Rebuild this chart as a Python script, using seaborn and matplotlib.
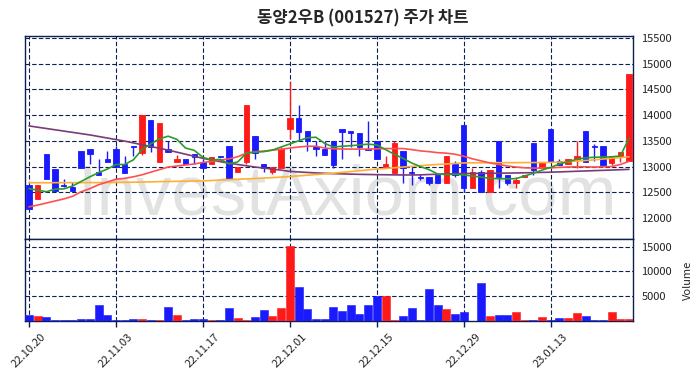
import matplotlib
matplotlib.use('agg')
import matplotlib.pyplot as plt
import seaborn as sns
import pandas as pd

# daily candles, 22.10.20 .. 23.01.30 (70 trading days)
opens = [12637, 12378, 13241, 12949, 12650, 12605, 13300, 13340, 12890, 13145,
         13340, 13040, 13390, 13254, 13900, 13092, 13340, 13092, 13145, 13235,
         13090, 13040, 13200, 13400, 12896, 13092, 13590, 13040, 12890, 12975,
         13740, 13950, 13690, 13400, 13340, 13495, 13740, 13690, 13645, 13340,
         13495, 12975, 12877, 13300, 12890, 12790, 12800, 12845, 12683, 13040,
         13806, 12585, 12890, 12495, 13494, 12845, 12683, 12787, 13460, 12975,
         13740, 13105, 13040, 13137, 13690, 13390, 13396, 13072, 13176, 13110]
highs = [12637, 12637, 13241, 12949, 12750, 12690, 13300, 13340, 13140, 13300,
         13400, 13200, 13400, 14000, 13900, 13850, 13500, 13220, 13145, 13235,
         13140, 13190, 13200, 13400, 13000, 14195, 13590, 13040, 13000, 13380,
         14640, 14200, 13690, 13495, 13495, 13495, 13740, 13690, 13645, 13890,
         13495, 13200, 13495, 13300, 13000, 12860, 12800, 12845, 13200, 13105,
         13806, 12975, 12940, 12940, 13494, 12845, 12787, 12845, 13460, 13060,
         13740, 13140, 13137, 13495, 13690, 13435, 13396, 13176, 13286, 14800]
lows = [12183, 12378, 12748, 12527, 12600, 12527, 12975, 13040, 12840, 13090,
        13000, 12880, 13200, 13220, 13290, 13092, 13290, 13092, 13040, 13040,
        12975, 13040, 13190, 12770, 12896, 13040, 13140, 12890, 12850, 12975,
        13530, 13500, 13300, 13200, 13222, 12975, 13140, 13385, 13200, 13320,
        13137, 12975, 12877, 12683, 12640, 12735, 12640, 12683, 12683, 12800,
        12510, 12585, 12495, 12495, 12585, 12637, 12585, 12787, 12845, 12975,
        13092, 13030, 13040, 12980, 13092, 13105, 13030, 13027, 13092, 13110]
closes = [12183, 12637, 12748, 12527, 12620, 12527, 12975, 13235, 12840, 13090,
          13000, 12880, 13380, 14000, 13385, 13850, 13290, 13144, 13040, 13190,
          12975, 13190, 13190, 12770, 13000, 14195, 13270, 12975, 13000, 13340,
          13950, 13676, 13495, 13340, 13222, 13030, 13676, 13645, 13385, 13330,
          13137, 13040, 13460, 12975, 12880, 12780, 12685, 12683, 13200, 12845,
          12585, 12890, 12495, 12940, 12787, 12683, 12735, 12845, 12930, 13060,
          13092, 13030, 13137, 13200, 13092, 13380, 13030, 13176, 13286, 14800]
volumes = [1224, 1020, 816, 200, 200, 200, 400, 400, 3264, 1224,
           136, 136, 408, 408, 200, 200, 2856, 1224, 200, 400,
           400, 200, 200, 2650, 612, 200, 816, 2244, 1020, 2652,
           15100, 6936, 2448, 408, 408, 2856, 2040, 3264, 1428, 3264,
           5032, 5032, 200, 1020, 2652, 200, 6528, 3264, 2448, 1428,
           1836, 50, 7752, 1020, 1224, 1224, 1836, 200, 200, 816,
           136, 612, 612, 1632, 1020, 200, 200, 1836, 408, 408]

# moving averages
ma5 = [12570, 12540, 12510, 12560, 12565, 12620, 12710, 12800, 12880, 12950,
       13040, 13040, 13130, 13330, 13440, 13540, 13590, 13530, 13360, 13315,
       13180, 13125, 13140, 13050, 13090, 13260, 13280, 13290, 13320, 13380,
       13440, 13500, 13560, 13570, 13450, 13380, 13395, 13405, 13420, 13435,
       13420, 13330, 13240, 13160, 13070, 13000, 12940, 12855, 12845, 12850,
       12835, 12815, 12795, 12770, 12765, 12760, 12765, 12815, 12870, 12930,
       12985, 13050, 13095, 13140, 13170, 13180, 13185, 13190, 13205, 13550]
ma20 = [12215, 12250, 12290, 12330, 12370, 12420, 12510, 12570, 12645, 12700,
        12750, 12770, 12800, 12840, 12890, 12940, 12990, 13010, 13030, 13050,
        13080, 13100, 13125, 13150, 13190, 13260, 13290, 13300, 13320, 13335,
        13360, 13380, 13395, 13395, 13360, 13345, 13340, 13340, 13340, 13340,
        13345, 13350, 13350, 13350, 13330, 13305, 13290, 13270, 13260, 13240,
        13200, 13150, 13110, 13070, 13040, 13010, 12990, 12975, 12970, 12970,
        12975, 12985, 12990, 12995, 12995, 12990, 12995, 13000, 13040, 13100]
ma60 = [12685, 12685, 12685, 12686, 12686, 12687, 12687, 12688, 12688, 12689,
        12690, 12692, 12695, 12698, 12702, 12706, 12709, 12712, 12715, 12718,
        12720, 12728, 12737, 12745, 12752, 12760, 12768, 12776, 12784, 12795,
        12805, 12818, 12831, 12844, 12857, 12870, 12886, 12902, 12918, 12935,
        12950, 12962, 12976, 12990, 13003, 13016, 13030, 13040, 13050, 13060,
        13070, 13072, 13073, 13074, 13075, 13075, 13076, 13077, 13078, 13079,
        13080, 13086, 13093, 13105, 13118, 13130, 13145, 13160, 13175, 13190]
ma120 = [13790, 13765, 13740, 13715, 13690, 13665, 13640, 13615, 13585, 13555,
         13525, 13495, 13460, 13425, 13390, 13355, 13320, 13280, 13240, 13200,
         13160, 13125, 13095, 13065, 13040, 13015, 12990, 12970, 12950, 12930,
         12905, 12895, 12885, 12876, 12868, 12862, 12857, 12852, 12848, 12845,
         12842, 12840, 12838, 12836, 12836, 12838, 12845, 12850, 12855, 12860,
         12865, 12866, 12867, 12868, 12870, 12872, 12875, 12878, 12882, 12886,
         12890, 12896, 12902, 12908, 12914, 12920, 12926, 12932, 12938, 12945]

tick_labels = ['22.10.20', '22.11.03', '22.11.17', '22.12.01',
               '22.12.15', '22.12.29', '23.01.13']
price_ticks = [12000, 12500, 13000, 13500, 14000, 14500, 15000, 15500]
volume_ticks = [5000, 10000, 15000]

UP = '#ff1a1a'
DOWN = '#1a1aff'
NAVY = '#0d1f4f'

if __name__ == '__main__':
    sns.set_style('white')
    plt.rcParams['font.family'] = ['Noto Sans CJK KR', 'DejaVu Sans']

    df = pd.DataFrame({'open': opens, 'high': highs, 'low': lows,
                       'close': closes, 'volume': volumes,
                       'ma5': ma5, 'ma20': ma20, 'ma60': ma60, 'ma120': ma120})
    df['idx'] = range(len(df))
    colors = [UP if c > o else DOWN for o, c in zip(df['open'], df['close'])]

    fig = plt.figure(figsize=(6.98, 3.78), dpi=100)
    ax1 = fig.add_axes([25 / 698, 1 - 239 / 378, 608 / 698, 203 / 378])
    ax2 = fig.add_axes([25 / 698, 1 - 321 / 378, 608 / 698, 82 / 378], sharex=ax1)

    # watermark
    ax1.text(0.53, 0.12, 'InvestAxiom.com', transform=ax1.transAxes,
             fontsize=51, color='#e2e2e2', ha='center', va='baseline',
             family='Liberation Sans', zorder=0)

    # candles
    body_lo = [min(o, c) for o, c in zip(df['open'], df['close'])]
    body_h = [max(abs(c - o), 12) for o, c in zip(df['open'], df['close'])]
    ax1.vlines(df['idx'], df['low'], df['high'], colors=colors, lw=1, zorder=2)
    ax1.bar(df['idx'], body_h, bottom=body_lo, width=0.62, color=colors,
            edgecolor=colors, linewidth=0.6, zorder=3)

    # moving averages
    for col, c in [('ma120', '#7b3a78'), ('ma60', '#ffb030'),
                   ('ma20', '#ff5050'), ('ma5', '#2e9a2e')]:
        sns.lineplot(data=df, x='idx', y=col, ax=ax1, color=c, lw=1.2,
                     zorder=4, legend=False)

    # volume
    ax2.bar(df['idx'], df['volume'], width=0.92, color=colors,
            edgecolor=colors, linewidth=0.4, zorder=3)

    for ax in (ax1, ax2):
        ax.grid(True, color=NAVY, linestyle=(0, (4, 2)), lw=0.8)
        ax.set_axisbelow(True)
        for s in ax.spines.values():
            s.set_color(NAVY)
            s.set_linewidth(1.0)
        ax.yaxis.tick_right()
        ax.set_ylabel('')
        ax.set_xlabel('')
        ax.tick_params(axis='y', labelsize=8, length=0, pad=6, colors='#222222')

    ax1.set_xlim(-0.46, 69.46)
    ax1.set_ylim(11590, 15540)
    ax1.set_yticks(price_ticks)
    ax1.tick_params(axis='x', labelbottom=False, length=0)

    ax2.set_ylim(0, 16550)
    ax2.set_yticks(volume_ticks)
    ax2.set_xticks(range(0, 61, 10))
    ax2.set_xticklabels(tick_labels, rotation=45, fontsize=8, color='#222222')
    ax2.tick_params(axis='x', length=4, width=1, color=NAVY, direction='out',
                    bottom=True)
    ax2.yaxis.set_label_position('right')
    ax2.set_ylabel('Volume', fontsize=8, labelpad=8)

    fig.suptitle('동양2우B (001527) 주가 차트', x=0.52, y=0.975, fontsize=12,
                 fontweight='bold')

    fig.savefig('out.png', dpi=100)
